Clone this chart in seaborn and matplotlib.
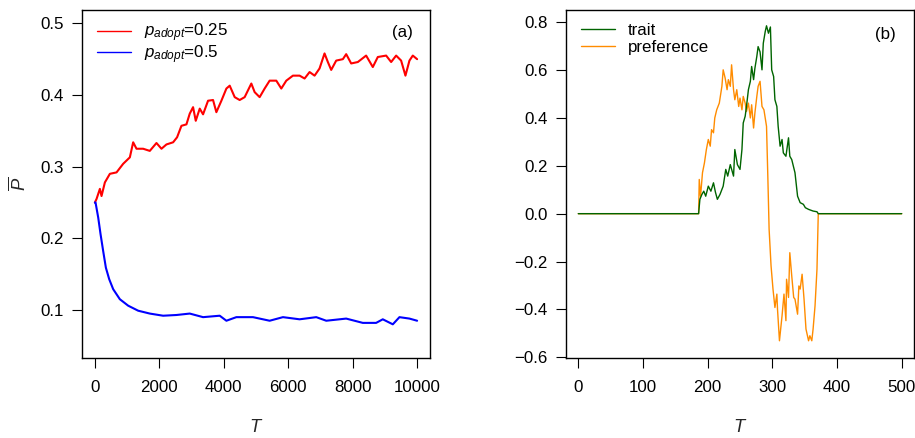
import matplotlib
matplotlib.use("Agg")
import matplotlib.pyplot as plt
import seaborn as sns

# ---- data ----
red_T = [0, 52, 155, 206, 310, 465, 672, 878, 1085, 1188, 1291, 1497, 1704, 1911, 2066,
         2221, 2428, 2551, 2686, 2841, 2944, 3047, 3130, 3254, 3357, 3512, 3667, 3770, 3926, 4081,
         4184, 4339, 4493, 4648, 4855, 4958, 5113, 5268, 5423, 5630, 5785, 5940, 6146, 6353, 6508,
         6663, 6818, 6972, 7127, 7230, 7334, 7489, 7696, 7799, 7954, 8160, 8418, 8625, 8780, 9039,
         9194, 9349, 9504, 9638, 9762, 9866, 10000]
red_P = [0.250, 0.255, 0.269, 0.259, 0.278, 0.290, 0.292, 0.304, 0.313, 0.334, 0.325, 0.325, 0.322, 0.333, 0.325,
         0.331, 0.334, 0.341, 0.357, 0.359, 0.374, 0.383, 0.364, 0.381, 0.373, 0.392, 0.393, 0.376, 0.392, 0.409,
         0.413, 0.397, 0.393, 0.397, 0.416, 0.404, 0.397, 0.409, 0.420, 0.420, 0.409, 0.420, 0.427, 0.427, 0.423,
         0.432, 0.427, 0.437, 0.458, 0.446, 0.435, 0.448, 0.450, 0.457, 0.444, 0.446, 0.455, 0.439, 0.453, 0.455,
         0.446, 0.455, 0.448, 0.427, 0.448, 0.455, 0.450]

blue_T = [0, 20, 103, 175, 258, 341, 444, 568, 775, 1033, 1343, 1704, 2117, 2531, 2944,
          3357, 3874, 4081, 4390, 4906, 5423, 5836, 6353, 6870, 7180, 7799, 8315, 8728, 8935, 9246,
          9452, 9762, 10000]
blue_P = [0.250, 0.250, 0.229, 0.206, 0.182, 0.159, 0.143, 0.129, 0.115, 0.106, 0.099, 0.095, 0.092, 0.093, 0.095,
          0.090, 0.092, 0.085, 0.090, 0.090, 0.085, 0.090, 0.087, 0.090, 0.085, 0.088, 0.082, 0.082, 0.087, 0.080,
          0.090, 0.088, 0.085]

trait_T = [0, 186, 188, 191, 194, 197, 201, 205, 209, 212, 215, 219, 224, 228, 231,
           235, 240, 242, 246, 250, 253, 255, 258, 260, 263, 266, 268, 271, 273, 276,
           278, 281, 284, 286, 289, 291, 294, 297, 299, 302, 304, 307, 309, 312, 315,
           317, 321, 325, 327, 330, 335, 339, 343, 348, 351, 356, 363, 369, 371, 500]
trait_v = [0, 0, 0.06, 0.080, 0.094, 0.073, 0.115, 0.094, 0.129, 0.09, 0.060, 0.080, 0.115, 0.185, 0.157,
           0.205, 0.157, 0.268, 0.205, 0.185, 0.268, 0.379, 0.407, 0.448, 0.518, 0.553, 0.615, 0.56, 0.607, 0.657,
           0.698, 0.676, 0.601, 0.712, 0.761, 0.785, 0.754, 0.78, 0.601, 0.573, 0.476, 0.448, 0.365, 0.282, 0.31,
           0.254, 0.24, 0.317, 0.24, 0.226, 0.171, 0.073, 0.046, 0.039, 0.025, 0.018, 0.011, 0.008, 0, 0]

pref_T = [0, 186, 187, 189, 192, 195, 198, 201, 204, 206, 209, 211, 214, 218, 222,
          224, 227, 230, 232, 235, 237, 240, 242, 245, 248, 250, 253, 255, 258, 260,
          263, 266, 268, 271, 273, 276, 278, 281, 284, 287, 291, 293, 295, 298, 301,
          304, 307, 308, 311, 315, 318, 321, 322, 325, 327, 330, 333, 335, 339, 341,
          343, 346, 349, 352, 356, 358, 361, 363, 366, 369, 371, 500]
pref_v = [0, 0, 0.143, 0.073, 0.171, 0.212, 0.268, 0.31, 0.282, 0.351, 0.338, 0.40, 0.434, 0.462, 0.532,
          0.601, 0.567, 0.518, 0.56, 0.532, 0.622, 0.518, 0.476, 0.518, 0.448, 0.483, 0.434, 0.49, 0.462, 0.427,
          0.462, 0.40, 0.455, 0.358, 0.42, 0.49, 0.532, 0.553, 0.448, 0.434, 0.365, 0.157, -0.065, -0.218, -0.315,
          -0.392, -0.336, -0.40, -0.531, -0.427, -0.336, -0.447, -0.274, -0.35, -0.163, -0.26, -0.35, -0.357, -0.42, -0.302,
          -0.315, -0.253, -0.357, -0.482, -0.531, -0.51, -0.531, -0.482, -0.385, -0.232, 0, 0]

left_xticks = [0, 2000, 4000, 6000, 8000, 10000]
left_yticks = [0.1, 0.2, 0.3, 0.4, 0.5]
right_xticks = [0, 100, 200, 300, 400, 500]
right_yticks = [-0.6, -0.4, -0.2, 0.0, 0.2, 0.4, 0.6, 0.8]

# ---- style ----
sns.set_theme(style="ticks")
plt.rcParams.update({
    "font.family": ["Liberation Sans", "DejaVu Sans"],
    "mathtext.fontset": "custom",
    "mathtext.rm": "Liberation Sans",
    "mathtext.it": "Liberation Sans:italic",
    "mathtext.bf": "Liberation Sans:bold",
    "axes.edgecolor": "black",
    "axes.linewidth": 1.0,
    "xtick.color": "black",
    "ytick.color": "black",
    "text.color": "black",
})

FS = 12.2
W, H = 915, 438
fig = plt.figure(figsize=(W / 100, H / 100), dpi=100)
fig.patch.set_facecolor("white")

def frac(x0, x1, ytop, ybot):
    return [x0 / W, 1 - ybot / H, (x1 - x0) / W, (ybot - ytop) / H]

ax1 = fig.add_axes(frac(82, 430, 10, 358))
ax2 = fig.add_axes(frac(566, 914, 10, 358))

# ---- left panel ----
sns.lineplot(x=red_T, y=red_P, ax=ax1, color="red", lw=1.5, estimator=None, sort=False,
             label=r"$p_{adopt}$=0.25")
sns.lineplot(x=blue_T, y=blue_P, ax=ax1, color="blue", lw=1.5, estimator=None, sort=False,
             label=r"$p_{adopt}$=0.5")
ax1.set_xlim(-400, 10400)
ax1.set_ylim(0.033, 0.5186)
ax1.set_xticks(left_xticks)
ax1.set_xticklabels([str(v) for v in left_xticks])
ax1.set_yticks(left_yticks)
ax1.set_yticklabels([f"{v:.1f}" for v in left_yticks])
ax1.set_xlabel(r"$T$", fontsize=FS + 1)
ax1.set_ylabel(r"$\overline{P}$", fontsize=FS + 1)
ax1.xaxis.set_label_coords(0.5, -0.176)
ax1.yaxis.set_label_coords(-0.15, 0.5)
leg1 = ax1.legend(loc="upper left", bbox_to_anchor=(0.043, 0.966), frameon=False,
                  fontsize=FS, handlelength=2.0, handletextpad=0.75, labelspacing=-0.08,
                  borderpad=0, borderaxespad=0)
for l in leg1.get_lines():
    l.set_linewidth(1.0)
ax1.text(0.92, 0.934, "(a)", transform=ax1.transAxes, ha="center", va="center", fontsize=FS)

# ---- right panel ----
sns.lineplot(x=pref_T, y=pref_v, ax=ax2, color="darkorange", lw=1.0, estimator=None, sort=False)
sns.lineplot(x=trait_T, y=trait_v, ax=ax2, color="darkgreen", lw=1.0, estimator=None, sort=False)
ax2.set_xlim(-19, 519)
ax2.set_ylim(-0.603, 0.851)
ax2.set_xticks(right_xticks)
ax2.set_xticklabels([str(v) for v in right_xticks])
ax2.set_yticks(right_yticks)
ax2.set_yticklabels([f"{v:.1f}".replace("-", "\u2212") for v in right_yticks])
ax2.set_xlabel(r"$T$", fontsize=FS + 1)
ax2.set_ylabel("")
ax2.xaxis.set_label_coords(0.5, -0.176)
h_pref, h_trait = ax2.get_lines()[0], ax2.get_lines()[1]
leg2 = ax2.legend([h_trait, h_pref], ["trait", "preference"], loc="upper left",
                  bbox_to_anchor=(0.043, 0.964), frameon=False, fontsize=FS,
                  handlelength=2.0, handletextpad=0.75, labelspacing=0.12,
                  borderpad=0, borderaxespad=0)
ax2.text(0.917, 0.931, "(b)", transform=ax2.transAxes, ha="center", va="center", fontsize=FS)

for ax in (ax1, ax2):
    for s in ax.spines.values():
        s.set_visible(True)
        s.set_color("black")
        s.set_linewidth(1.0)
    ax.tick_params(axis="both", which="major", direction="out", length=7, width=0.8,
                   labelsize=FS, colors="black")
    ax.tick_params(axis="x", pad=9)
    ax.tick_params(axis="y", pad=6)
    ax.grid(False)
    ax.set_facecolor("white")

fig.savefig("out.png", dpi=100, facecolor="white")
